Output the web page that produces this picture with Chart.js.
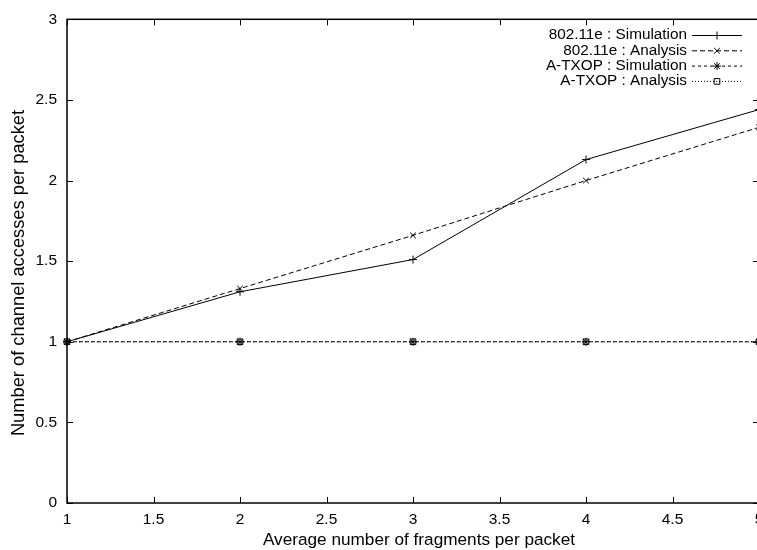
<!DOCTYPE html>
<html>
<head>
<meta charset="utf-8">
<script src="https://cdn.jsdelivr.net/npm/chart.js@4/dist/chart.umd.min.js"></script>
<style>
  html, body { margin: 0; padding: 0; background: #fff; overflow: hidden; }
  #wrap { width: 780px; height: 550px; }
</style>
</head>
<body>
<div id="wrap"><canvas id="chart" width="780" height="550"></canvas></div>
<script>
// data
const fragments = [1, 2, 3, 4, 5];
const edcaSim = [1, 1.31, 1.51, 2.13, 2.44];
const edcaAna = [1, 1.33, 1.66, 2.0, 2.33];
const atxopSim = [1, 1, 1, 1, 1];
const atxopAna = [1, 1, 1, 1, 1];
const seriesNames = ['802.11e : Simulation', '802.11e : Analysis', 'A-TXOP : Simulation', 'A-TXOP : Analysis'];
const xTicks = [1, 1.5, 2, 2.5, 3, 3.5, 4, 4.5, 5];
const yTicks = [0, 0.5, 1, 1.5, 2, 2.5, 3];
const xTitle = 'Average number of fragments per packet';
const yTitle = 'Number of channel accesses per packet';

const FONT = "'Liberation Sans', Arial, sans-serif";

function pts(ys) {
  return fragments.map((x, i) => ({ x: x, y: ys[i] }));
}

function ds(label, ys, dash, marker) {
  return {
    label: label,
    data: pts(ys),
    borderColor: '#000',
    borderWidth: 1,
    borderDash: dash,
    pointStyle: marker,
    pointRadius: 4,
    pointBorderColor: '#000',
    pointBorderWidth: 1,
    pointBackgroundColor: 'rgba(0,0,0,0)',
    fill: false,
    tension: 0
  };
}

// gnuplot style frame, inward ticks, axis labels and key
const gnuplotFrame = {
  id: 'gnuplotFrame',
  afterDatasetsDraw(chart) {
    const ctx = chart.ctx;
    const a = chart.chartArea;
    const xs = chart.scales.x, ys = chart.scales.y;
    ctx.save();
    ctx.strokeStyle = '#000';
    ctx.lineWidth = 1.5;
    ctx.setLineDash([]);
    ctx.strokeRect(a.left, a.top, a.right - a.left, a.bottom - a.top);
    ctx.lineWidth = 1;
    const t = 6;
    xTicks.forEach(v => {
      const px = Math.round(xs.getPixelForValue(v)) + 0.5;
      ctx.beginPath();
      ctx.moveTo(px, a.bottom); ctx.lineTo(px, a.bottom - t);
      ctx.moveTo(px, a.top); ctx.lineTo(px, a.top + t);
      ctx.stroke();
    });
    yTicks.forEach(v => {
      const py = Math.round(ys.getPixelForValue(v)) + 0.5;
      ctx.beginPath();
      ctx.moveTo(a.left, py); ctx.lineTo(a.left + t, py);
      ctx.moveTo(a.right, py); ctx.lineTo(a.right - t, py);
      ctx.stroke();
    });

    // axis labels
    ctx.fillStyle = '#000';
    ctx.textAlign = 'center';
    ctx.textBaseline = 'middle';
    ctx.font = '17.2px ' + FONT;
    ctx.fillText(xTitle, 419, 540);
    ctx.save();
    ctx.translate(19, 273);
    ctx.rotate(-Math.PI / 2);
    ctx.font = '18.3px ' + FONT;
    ctx.fillText(yTitle, 0, 0);
    ctx.restore();

    // key
    ctx.font = '15.3px ' + FONT;
    ctx.textAlign = 'right';
    chart.data.datasets.forEach((d, i) => {
      const y = 35 + i * 15.3;
      ctx.fillStyle = '#000';
      ctx.fillText(d.label, 687, y);
      ctx.beginPath();
      ctx.setLineDash(d.borderDash || []);
      ctx.moveTo(692, y + 0.5); ctx.lineTo(742, y + 0.5);
      ctx.stroke();
      ctx.setLineDash([]);
      ctx.fillStyle = 'rgba(0,0,0,0)';
      Chart.helpers.drawPoint(ctx, {
        pointStyle: d.pointStyle, radius: 4, rotation: 0, borderWidth: 1
      }, 717, y + 0.5);
    });
    ctx.restore();
  }
};

new Chart(document.getElementById('chart'), {
  type: 'line',
  data: {
    datasets: [
      ds(seriesNames[0], edcaSim, [], 'cross'),
      ds(seriesNames[1], edcaAna, [5, 3], 'crossRot'),
      ds(seriesNames[2], atxopSim, [3, 3], 'star'),
      ds(seriesNames[3], atxopAna, [1, 2], 'rect')
    ]
  },
  options: {
    responsive: false,
    animation: false,
    clip: false,
    layout: { padding: { top: 16, right: 21, left: 0, bottom: 0 } },
    plugins: { legend: { display: false }, tooltip: { enabled: false } },
    scales: {
      x: {
        type: 'linear', min: 1, max: 5,
        grid: { display: false, drawTicks: false }, border: { display: false },
        afterBuildTicks: s => { s.ticks = xTicks.map(v => ({ value: v })); },
        afterFit: s => { s.height = 47; },
        ticks: { color: '#000', padding: 7, font: { family: FONT, size: 15.5 }, maxRotation: 0, callback: v => String(v) },
        title: { display: false }
      },
      y: {
        type: 'linear', min: 0, max: 3,
        grid: { display: false, drawTicks: false }, border: { display: false },
        afterBuildTicks: s => { s.ticks = yTicks.map(v => ({ value: v })); },
        afterFit: s => { s.width = 67; },
        ticks: { color: '#000', padding: 10, font: { family: FONT, size: 15.5 }, callback: v => String(v) },
        title: { display: false }
      }
    }
  },
  plugins: [gnuplotFrame]
});
</script>
</body>
</html>
